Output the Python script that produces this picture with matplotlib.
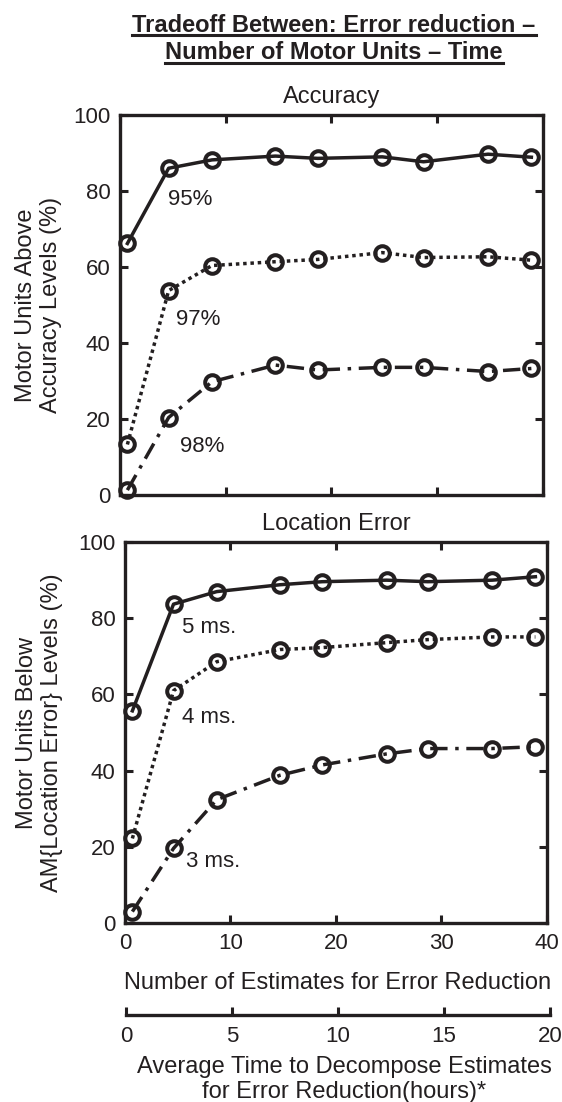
import matplotlib
matplotlib.use("Agg")
import matplotlib.pyplot as plt
from matplotlib.lines import Line2D

plt.rcParams['font.family'] = ['Liberation Sans', 'DejaVu Sans']

# ==============================
# DATA
# ==============================

n_estimates = [0.7, 4.6, 8.7, 14.7, 18.7, 24.8, 28.7, 34.8, 38.9]

acc_95 = [66.2, 86.0, 88.2, 89.2, 88.6, 89.0, 87.7, 89.7, 88.9]
acc_97 = [13.3, 53.8, 60.4, 61.4, 62.0, 63.8, 62.5, 62.7, 61.8]
acc_98 = [1.3, 20.4, 29.8, 34.2, 32.9, 33.6, 33.6, 32.5, 33.3]

loc_5ms = [55.7, 83.7, 87.0, 88.8, 89.6, 90.0, 89.6, 90.0, 90.9]
loc_4ms = [22.2, 61.0, 68.6, 71.8, 72.3, 73.6, 74.4, 75.1, 75.1]
loc_3ms = [3.0, 19.6, 32.4, 38.8, 41.5, 44.4, 45.8, 45.8, 46.3]

acc_labels = ['95%', '97%', '98%']
loc_labels = ['5 ms.', '4 ms.', '3 ms.']

x_ticks = [0, 10, 20, 30, 40]
y_ticks = [0, 20, 40, 60, 80, 100]
hour_ticks = [0, 5, 10, 15, 20]

ink = '#231f20'
dotted = (0, (1, 1.1))
dashdot = (0, (5, 2.2, 1, 2.2))
styles = ['-', dotted, dashdot]

# ==============================
# FIGURE
# ==============================

fig = plt.figure(figsize=(5.62, 11.02), dpi=100)
ax1 = fig.add_axes([0.2135, 0.5508, 0.7527, 0.3448])
ax2 = fig.add_axes([0.2224, 0.1624, 0.7509, 0.3457])
ax3 = fig.add_axes([0.2242, 0.0789, 0.7544, 0.001])


def style_box(ax):
    for s in ax.spines.values():
        s.set_linewidth(2.4)
        s.set_color(ink)
    ax.set_xlim(0, 40)
    ax.set_ylim(0, 100)
    ax.set_xticks(x_ticks)
    ax.set_yticks(y_ticks)
    ax.tick_params(direction='in', length=6, width=2.2, top=True, right=True,
                   labelsize=16, colors=ink, pad=7)


def draw_series(ax, series, labels, label_pos):
    for y, ls in zip(series, styles):
        ax.plot(n_estimates, y, linestyle=ls, color=ink, lw=2.5,
                marker='o', ms=10.5, mfc='none', mew=2.9,
                clip_on=False, zorder=3)
    for lab, (tx, ty) in zip(labels, label_pos):
        ax.text(tx, ty, lab, fontsize=16, color=ink, ha='left', va='baseline')


# ==============================
# ACCURACY PANEL
# ==============================

style_box(ax1)
ax1.tick_params(labelbottom=False)
draw_series(ax1, [acc_95, acc_97, acc_98], acc_labels,
            [(4.5, 76.3), (5.3, 44.7), (5.7, 11.3)])
ax1.set_title('Accuracy', fontsize=17, color=ink, pad=9)
ax1.set_ylabel('Motor Units Above\nAccuracy Levels (%)', fontsize=17,
               color=ink, linespacing=1.15)
ax1.yaxis.set_label_coords(-0.137, 0.5)

# ==============================
# LOCATION ERROR PANEL
# ==============================

style_box(ax2)
draw_series(ax2, [loc_5ms, loc_4ms, loc_3ms], loc_labels,
            [(5.4, 76.1), (5.4, 52.5), (5.8, 14.7)])
ax2.set_title('Location Error', fontsize=17, color=ink, pad=9)
ax2.set_ylabel('Motor Units Below\nAM{Location Error} Levels (%)', fontsize=17,
               color=ink, linespacing=1.15)
ax2.yaxis.set_label_coords(-0.147, 0.5)

fig.text(0.6014, 0.1025, 'Number of Estimates for Error Reduction',
         fontsize=17, color=ink, ha='center', va='baseline')

# ==============================
# TIME AXIS
# ==============================

for side in ['left', 'right', 'top']:
    ax3.spines[side].set_visible(False)
ax3.spines['bottom'].set_linewidth(2.4)
ax3.spines['bottom'].set_color(ink)
ax3.set_xlim(0, 20)
ax3.set_xticks(hour_ticks)
ax3.set_yticks([])
ax3.tick_params(direction='in', length=6, width=2.2, labelsize=16,
                colors=ink, pad=8)

fig.text(0.612, 0.0263, 'Average Time to Decompose Estimates',
         fontsize=17, color=ink, ha='center', va='baseline')
fig.text(0.613, 0.0036, 'for Error Reduction(hours)*',
         fontsize=17, color=ink, ha='center', va='baseline')

# ==============================
# TITLE (bold + underline)
# ==============================

t1 = fig.text(0.5943, 0.9710, 'Tradeoff Between: Error reduction \u2013',
              fontsize=17, fontweight='bold', color=ink, ha='center', va='baseline')
t2 = fig.text(0.5943, 0.9465, 'Number of Motor Units \u2013 Time',
              fontsize=17, fontweight='bold', color=ink, ha='center', va='baseline')

fig.canvas.draw()
W, H = fig.canvas.get_width_height()
for t, yline in [(t1, 0.9678), (t2, 0.9424)]:
    bb = t.get_window_extent()
    fig.add_artist(Line2D([bb.x0 / W, bb.x1 / W], [yline, yline],
                          transform=fig.transFigure, color=ink, lw=2.2))

fig.savefig('out.png', dpi=100)
